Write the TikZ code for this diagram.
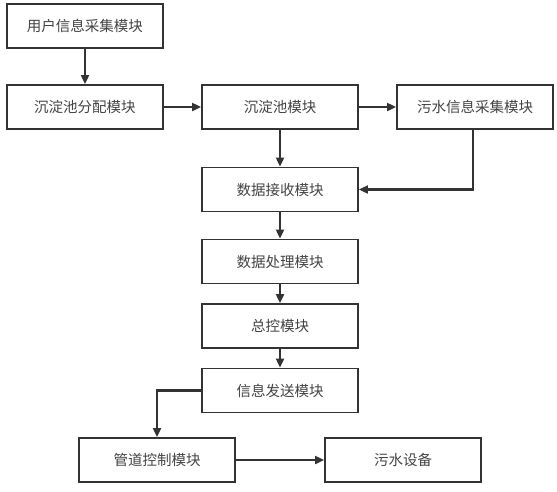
\documentclass[tikz,border=0pt]{standalone}
\usepackage{fontspec}
\newfontfamily\cjk{Noto Sans CJK SC}[Scale=1]
\usetikzlibrary{arrows.meta,positioning}
\definecolor{linec}{HTML}{333333}
\definecolor{textc}{HTML}{444444}
\tikzset{
  box/.style={draw=linec, line width=1.9pt, fill=white, minimum width=156pt, minimum height=44pt, inner sep=0pt, font=\cjk\fontsize{14.5pt}{16pt}\selectfont, text=textc},
  conn/.style={draw=linec, line width=2.1pt, -{Triangle[length=9pt,width=8pt]}}
}
\begin{document}
\begin{tikzpicture}[x=1pt,y=-1pt]
\useasboundingbox (0,0) rectangle (557,491);
\node[box] (user) at (85,26) {用户信息采集模块};
\node[box] (alloc) at (85,107) {沉淀池分配模块};
\node[box] (pool) at (280,107) {沉淀池模块};
\node[box] (sewinfo) at (475,107) {污水信息采集模块};
\node[box] (recv) at (280,189.5) {数据接收模块};
\node[box] (proc) at (280,261.5) {数据处理模块};
\node[box] (ctrl) at (280,326) {总控模块};
\node[box] (send) at (280,390.5) {信息发送模块};
\node[box] (pipe) at (157,460) {管道控制模块};
\node[box] (dev) at (403,460) {污水设备};
\coordinate (c1) at (473,189.5);
\coordinate (c2) at (157,390.5);
\draw[conn] (user) -- (alloc);
\draw[conn] (alloc) -- (pool);
\draw[conn] (pool) -- (sewinfo);
\draw[conn] (pool) -- (recv);
\draw[conn] (sewinfo.south -| c1) -- (c1) -- (recv.east);
\draw[conn] (recv) -- (proc);
\draw[conn] (proc) -- (ctrl);
\draw[conn] (ctrl) -- (send);
\draw[conn] (send.west) -- (c2) -- (pipe.north);
\draw[conn] (pipe) -- (dev);
\end{tikzpicture}
\end{document}
